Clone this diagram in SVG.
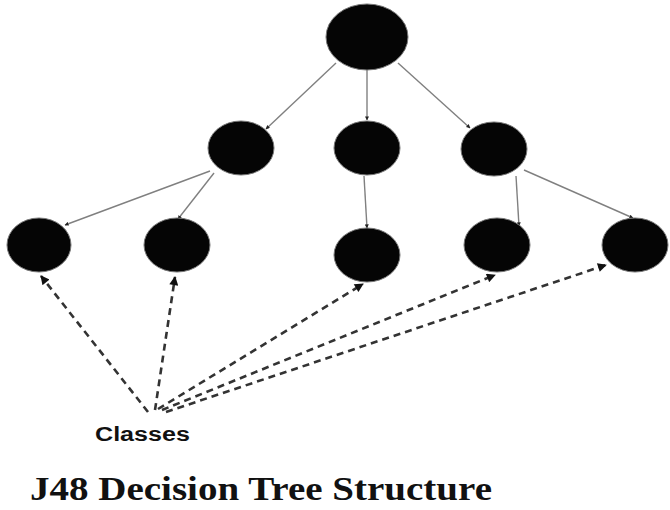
<svg xmlns="http://www.w3.org/2000/svg" width="670" height="510" viewBox="0 0 670 510">
<style>
.node{fill:#050505;stroke:#777;stroke-width:1}
.edge{stroke:#808080;stroke-width:1.4;fill:none}
.dash{stroke:#333;stroke-width:2.6;fill:none;stroke-dasharray:7,5}
.lbl{font-family:"Liberation Sans",Arial,sans-serif;font-weight:bold;font-size:20px;fill:#111}
.title{font-family:"Liberation Serif","Times New Roman",serif;font-weight:bold;font-size:34px;fill:#111}
</style>
<defs>
<marker id="ah" viewBox="0 0 10 10" refX="9" refY="5" markerWidth="4" markerHeight="4" orient="auto" markerUnits="userSpaceOnUse">
<path d="M0,0 L10,5 L0,10 z" fill="#222"/>
</marker>
<marker id="ahd" viewBox="0 0 10 10" refX="9" refY="5" markerWidth="11" markerHeight="9" orient="auto" markerUnits="userSpaceOnUse">
<path d="M0,0 L10,5 L0,10 z" fill="#111"/>
</marker>
</defs>
<g id="connectors">
<line class="edge" x1="336" y1="63" x2="266" y2="129" marker-end="url(#ah)"/>
<line class="edge" x1="367" y1="70" x2="367" y2="120" marker-end="url(#ah)"/>
<line class="edge" x1="398" y1="63" x2="470" y2="128" marker-end="url(#ah)"/>
<line class="edge" x1="210" y1="171" x2="65" y2="225" marker-end="url(#ah)"/>
<line class="edge" x1="214" y1="173" x2="178" y2="219" marker-end="url(#ah)"/>
<line class="edge" x1="364" y1="176" x2="367" y2="228" marker-end="url(#ah)"/>
<line class="edge" x1="516" y1="176" x2="519" y2="226" marker-end="url(#ah)"/>
<line class="edge" x1="524" y1="170" x2="633" y2="218" marker-end="url(#ah)"/>
<line class="dash" x1="148" y1="412" x2="41" y2="276" marker-end="url(#ahd)"/>
<line class="dash" x1="155" y1="410" x2="175" y2="277" marker-end="url(#ahd)"/>
<line class="dash" x1="158" y1="409" x2="363" y2="284" marker-end="url(#ahd)"/>
<line class="dash" x1="162" y1="410" x2="495" y2="275" marker-end="url(#ahd)"/>
<line class="dash" x1="166" y1="412" x2="606" y2="265" marker-end="url(#ahd)"/>
</g>
<g id="root"><ellipse class="node" cx="367" cy="37" rx="41" ry="33"/></g>
<g id="n1"><ellipse class="node" cx="241" cy="148" rx="33" ry="27"/></g>
<g id="n2"><ellipse class="node" cx="367" cy="148" rx="33" ry="27"/></g>
<g id="n3"><ellipse class="node" cx="494" cy="149" rx="33" ry="27"/></g>
<g id="leaf1"><ellipse class="node" cx="39" cy="245" rx="32" ry="27"/></g>
<g id="leaf2"><ellipse class="node" cx="177" cy="245" rx="33" ry="27"/></g>
<g id="leaf3"><ellipse class="node" cx="367" cy="255" rx="33" ry="27"/></g>
<g id="leaf4"><ellipse class="node" cx="497" cy="245" rx="33" ry="27"/></g>
<g id="leaf5"><ellipse class="node" cx="635" cy="245" rx="33" ry="27"/></g>
<g id="classes"><text class="lbl" x="95" y="441" textLength="95" lengthAdjust="spacingAndGlyphs">Classes</text></g>
<text class="title" x="30" y="500" textLength="462" lengthAdjust="spacingAndGlyphs">J48 Decision Tree Structure</text>
</svg>
